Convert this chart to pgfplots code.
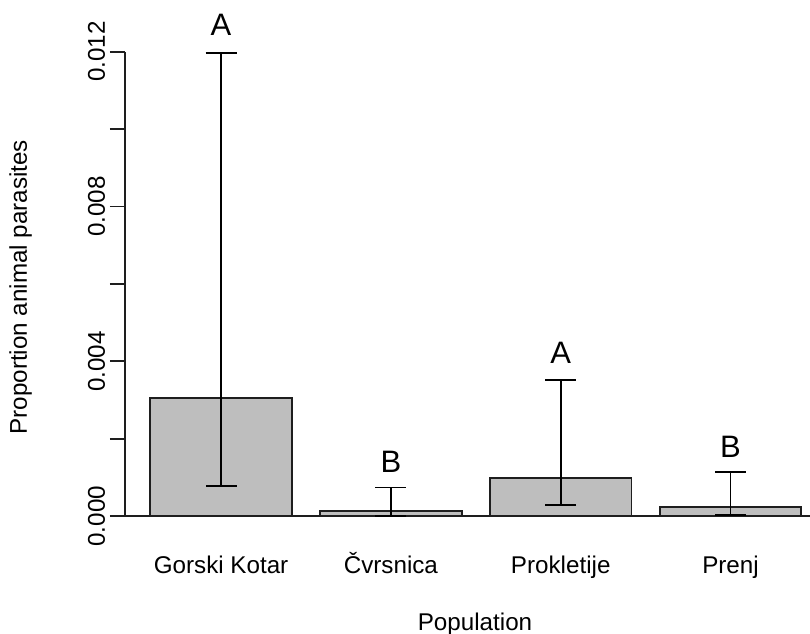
\documentclass[border=0pt]{standalone}
\usepackage{fontspec}
\setmainfont{Liberation Sans}
\usepackage{pgfplots}
\pgfplotsset{compat=1.18}
\usepackage{pgfplotstable}
\definecolor{barfill}{RGB}{190,190,190}
\definecolor{ink}{RGB}{30,30,30}

\pgfplotstableread{
x    y         ep        em
0.7  0.00306   0.00890   0.00229
1.9  0.000134  0.000606  0.000124
3.1  0.000995  0.002525  0.000705
4.3  0.00024   0.00091   0.00020
}\datatable

\begin{document}
\begin{tikzpicture}[font=\fontsize{12.1pt}{14pt}\selectfont]
\useasboundingbox (0,0) rectangle (405pt,316.5pt);
\begin{axis}[
  at={(62.5pt,58.4pt)}, anchor=south west,
  scale only axis,
  width=342.5pt, height=232.25pt,
  xmin=0.0212, xmax=4.8615,
  ymin=0, ymax=0.012,
  axis x line*=bottom, axis y line*=left,
  axis line style={-, ink, line width=0.9pt},
  every tick/.style={ink, line width=0.9pt},
  tick align=outside,
  major tick length=7.5pt,
  xtick={0.7,1.9,3.1,4.3},
  xticklabels={Gorski Kotar, Čvrsnica, Prokletije, Prenj},
  x tick style={draw=none},
  xticklabel style={anchor=base, yshift=-20.9pt},
  ytick={0,0.002,0.004,0.006,0.008,0.01,0.012},
  yticklabels={0.000,,0.004,,0.008,,0.012},
  scaled y ticks=false,
  yticklabel style={rotate=90, anchor=base},
  yticklabel shift=2.5pt,
  /pgf/number format/assume math mode=true,
  ylabel={Proportion animal parasites},
  ylabel style={at={(axis description cs:-0.1431,0.493)}, anchor=base, rotate=0},
  xlabel={Population},
  xlabel style={at={(axis description cs:0.511,-0.245)}, anchor=base},
  clip=false,
]
\addplot[ybar, bar width=1, fill=barfill, draw=ink, line width=0.9pt,
  error bars/.cd, y dir=both, y explicit,
  error bar style={black, line width=0.9pt},
  error mark options={black, line width=0.9pt, mark size=7.75pt, rotate=90}]
  table[x=x, y=y, y error plus=ep, y error minus=em] {\datatable};
\begin{scope}[font=\fontsize{15.5pt}{18pt}\selectfont]
\node at (axis cs:0.7,0.01269) {A};
\node at (axis cs:1.9,0.00141) {B};
\node at (axis cs:3.1,0.00421) {A};
\node at (axis cs:4.3,0.00178) {B};
\end{scope}
\end{axis}
\end{tikzpicture}
\end{document}
